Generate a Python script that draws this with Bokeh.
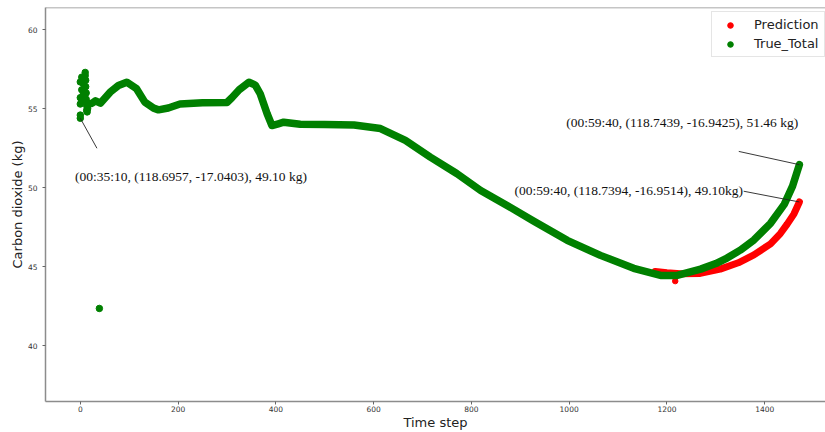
from bokeh.plotting import figure
from bokeh.models import Range1d, FixedTicker, Legend, LegendItem, Label, Span
from bokeh.embed import file_html
from bokeh.resources import INLINE

# ---------------- data ----------------
true_start_steps = [0, 0, 0, 0, 0, 3, 3, 3, 6, 6, 10, 10, 11, 11, 12, 12, 13, 13, 14, 15, 17]
true_start_values = [56.7, 55.7, 55.3, 54.6, 54.4, 57.0, 56.2, 55.5, 56.6, 55.9,
                     57.3, 57.1, 56.8, 56.4, 56.0, 55.6, 55.2, 54.9, 54.8, 55.0, 55.3]

true_steps = [17, 24, 31, 41, 61, 78, 95, 115, 132, 150, 160, 180, 204, 250, 300, 310,
              325, 345, 358, 368, 382, 392, 405, 416, 450, 500, 560, 614, 665, 716,
              770, 819, 873, 927, 996, 1064, 1132, 1187, 1221, 1269, 1300, 1323,
              1350, 1378, 1412, 1440, 1457, 1471]
true_values = [55.3, 55.35, 55.5, 55.35, 56.05, 56.47, 56.68, 56.27, 55.42, 55.04, 54.93,
               55.05, 55.3, 55.38, 55.4, 55.7, 56.2, 56.68, 56.5, 55.95, 54.7, 53.94,
               54.05, 54.15, 54.02, 54.0, 53.97, 53.75, 53.0, 51.94, 50.9, 49.83, 48.88,
               47.9, 46.67, 45.72, 44.9, 44.45, 44.45, 44.85, 45.2, 45.55, 46.05, 46.7,
               47.75, 48.95, 50.1, 51.46]

true_outlier_step = [39]
true_outlier_value = [42.36]

pred_steps = [1176, 1200, 1227, 1268, 1309, 1346, 1378, 1412, 1432, 1446, 1460, 1471]
pred_values = [44.7, 44.62, 44.55, 44.58, 44.85, 45.25, 45.75, 46.45, 47.1, 47.7, 48.35, 49.1]

pred_outlier_step = [1217]
pred_outlier_value = [44.09]

x_ticks = [0, 200, 400, 600, 800, 1000, 1200, 1400]
y_ticks = [40, 45, 50, 55, 60]

annotation_texts = [
    "(00:35:10, (118.6957, -17.0403), 49.10 kg)",
    "(00:59:40, (118.7439, -16.9425), 51.46 kg)",
    "(00:59:40, (118.7394, -16.9514), 49.10kg)",
]

# ---------------- figure ----------------
GREEN = "#008000"
RED = "#ff0000"
SPINE = "#8c8c8c"

p = figure(width=825, height=432, output_backend="svg", toolbar_location=None,
           x_range=Range1d(-71.2, 1524.4), y_range=Range1d(36.47, 61.41),
           min_border_left=45, min_border_right=0, min_border_top=7,
           min_border_bottom=31, background_fill_color="white",
           border_fill_color="white")

p.outline_line_color = None
p.grid.grid_line_color = None

p.xaxis.ticker = FixedTicker(ticks=x_ticks)
p.yaxis.ticker = FixedTicker(ticks=y_ticks)
for ax in (p.xaxis, p.yaxis):
    ax.axis_line_color = SPINE
    ax.axis_line_width = 1.5
    ax.major_tick_line_color = "#666666"
    ax.major_tick_out = 3
    ax.major_tick_in = 0
    ax.minor_tick_out = 0
    ax.minor_tick_in = 0
    ax.major_label_text_font = "DejaVu Sans"
    ax.major_label_text_font_size = "7.5px"
    ax.major_label_text_color = "#333333"
    ax.axis_label_text_font = "DejaVu Sans"
    ax.axis_label_text_font_size = "13px"
    ax.axis_label_text_font_style = "normal"
    ax.axis_label_text_color = "#222222"
    ax.axis_label_standoff = 0
p.xaxis.major_label_standoff = 1
p.yaxis.major_label_standoff = 5

p.xaxis.axis_label = "Time step"
p.yaxis.axis_label = "Carbon dioxide (kg)"

# top spine
p.add_layout(Span(location=61.41, dimension="width", line_color=SPINE, line_width=1.5))

# prediction (drawn first)
p.line(pred_steps, pred_values, line_color=RED, line_width=7,
       line_cap="round", line_join="round")
r_pred = p.scatter(pred_outlier_step, pred_outlier_value, size=5.5,
                   fill_color=RED, line_color=RED)

# true total
p.line(true_steps, true_values, line_color=GREEN, line_width=7.5,
       line_cap="round", line_join="round")
r_true = p.scatter(true_start_steps, true_start_values, size=6.5,
                   fill_color=GREEN, line_color=GREEN)
p.scatter(true_outlier_step, true_outlier_value, size=6.5,
          fill_color=GREEN, line_color=GREEN)

# annotation connector lines (tips at the annotated data points)
tips_x = [true_start_steps[4], true_steps[-1], pred_steps[-1]]
tips_y = [true_start_values[4], true_values[-1], pred_values[-1]]
tails_x = [34, 1347, 1357]
tails_y = [52.5, 52.3, 49.78]
p.segment(x0=tails_x, y0=tails_y, x1=tips_x, y1=tips_y,
          line_color="#222222", line_width=0.9)

text_pos = [(-11, 50.71), (994, 54.16), (888, 49.83)]
for (tx, ty), t in zip(text_pos, annotation_texts):
    p.add_layout(Label(x=tx, y=ty, text=t, text_font="Liberation Serif",
                       text_font_size="13.5px", text_align="left",
                       text_baseline="middle", text_color="#111111"))

legend = Legend(items=[LegendItem(label="Prediction", renderers=[r_pred]),
                       LegendItem(label="True_Total", renderers=[r_true])],
                location=(666, 344), glyph_width=26, glyph_height=14,
                label_height=14, spacing=4, padding=5, label_standoff=11,
                margin=0, label_text_font="DejaVu Sans",
                label_text_font_size="13px", label_text_color="#222222",
                border_line_color="#cccccc", border_line_width=1,
                background_fill_alpha=0.8)
p.add_layout(legend)

open("out.html", "w").write(file_html(p, INLINE))
